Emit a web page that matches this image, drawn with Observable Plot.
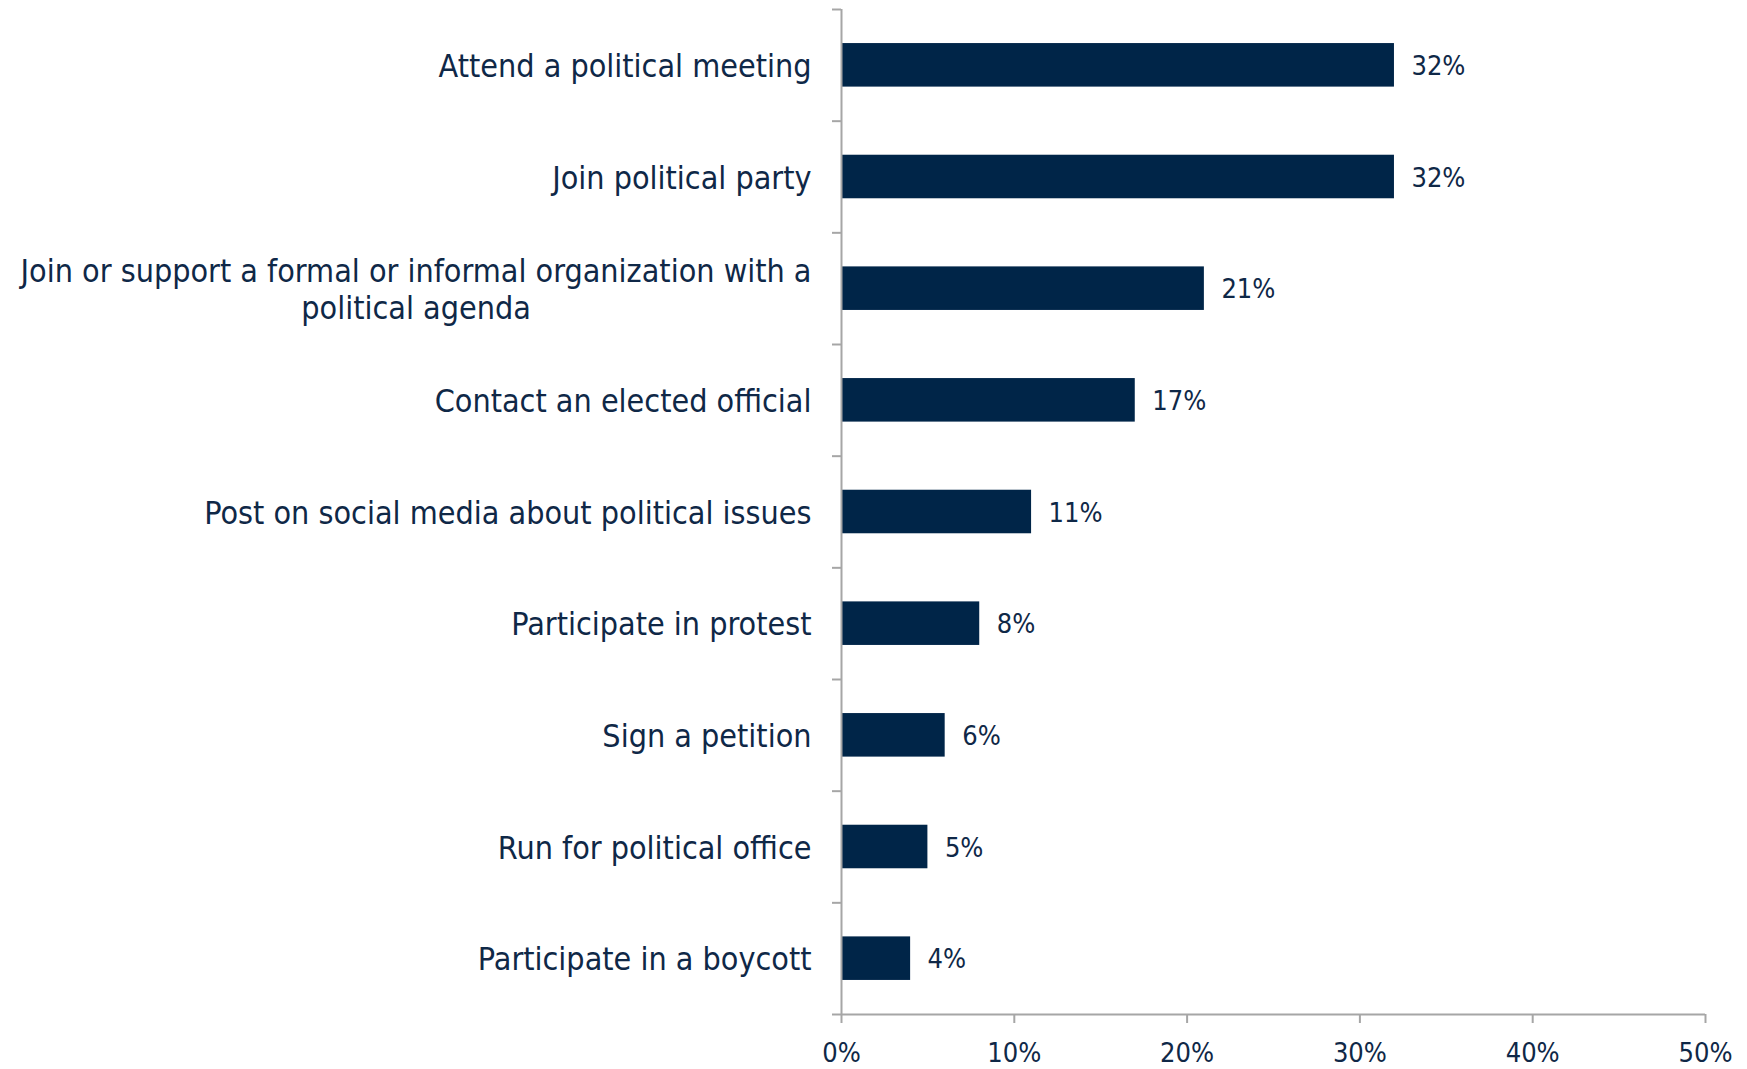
<!DOCTYPE html>
<html>
<head>
<meta charset="utf-8">
<script src="https://cdn.jsdelivr.net/npm/d3@7"></script>
<script src="https://cdn.jsdelivr.net/npm/@observablehq/plot@0.6"></script>
<style>
  html, body { margin: 0; padding: 0; background: #fff; }
</style>
</head>
<body>
<div id="chart"></div>
<script>
const categories = [
  "Attend a political meeting",
  "Join political party",
  "Join or support a formal or informal organization with a\npolitical agenda",
  "Contact an elected official",
  "Post on social media about political issues",
  "Participate in protest",
  "Sign a petition",
  "Run for political office",
  "Participate in a boycott"
];
const values = [32, 32, 21, 17, 11, 8, 6, 5, 4];
const xTicks = [0, 10, 20, 30, 40, 50];

const data = categories.map((label, i) => ({label, value: values[i], i}));

const navy = "#002548";
const textColor = "#0f2847";
const gray = "#a6a6a6";
const labelFont = "'DejaVu Sans Condensed', 'DejaVu Sans', sans-serif";

const chart = Plot.plot({
  width: 1747,
  height: 1069,
  marginLeft: 841,
  marginRight: 42,
  marginTop: 9,
  marginBottom: 55,
  style: {fontFamily: labelFont, fontSize: "32px", color: textColor, background: "#fff"},
  x: {type: "linear", domain: [0, 50], label: null},
  y: {type: "linear", domain: [0, categories.length], reverse: true, label: null},
  marks: [
    Plot.rect(data, {x1: 0, x2: "value", y1: d => d.i + 0.305, y2: d => d.i + 0.695, fill: navy}),
    Plot.ruleX([0], {stroke: gray, strokeWidth: 2}),
    Plot.ruleY([categories.length], {stroke: gray, strokeWidth: 2}),
    Plot.axisY(d3.range(0, categories.length + 1), {tickSize: 9, stroke: gray, strokeWidth: 2, tickFormat: () => "", label: null}),
    Plot.axisX(xTicks, {tickSize: 9, stroke: gray, strokeWidth: 2, fill: textColor, tickPadding: 19, tickFormat: d => d + "%", fontSize: 27, label: null}),
    Plot.text(data, {frameAnchor: "left", y: d => d.i + 0.5, text: "label", textAnchor: "end", dx: -30, fill: textColor, lineHeight: 1.15}),
    Plot.text(data, {x: "value", y: d => d.i + 0.5, text: d => d.value + "%", textAnchor: "start", dx: 17, dy: 1, fill: textColor, fontSize: 27})
  ]
});

document.getElementById("chart").appendChild(chart);

// center-align wrapped lines within their block (block stays right-aligned)
d3.select(chart).selectAll("text").each(function() {
  const tspans = this.querySelectorAll("tspan");
  if (tspans.length < 2) return;
  let w = 0;
  tspans.forEach(t => { w = Math.max(w, t.getComputedTextLength()); });
  this.setAttribute("text-anchor", "middle");
  tspans.forEach(t => t.setAttribute("x", -w / 2));
});
</script>
</body>
</html>
